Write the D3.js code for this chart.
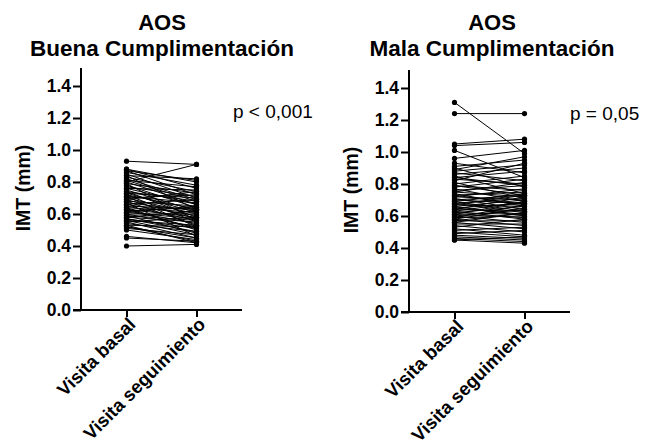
<!DOCTYPE html>
<html>
<head>
<meta charset="utf-8">
<script src="https://cdn.jsdelivr.net/npm/d3@7"></script>
<style>
  body { margin: 0; background: #fff; }
  text { font-family: "Liberation Sans", Arial, sans-serif; }
</style>
</head>
<body>
<script>
// categories and ticks
var visits = ["Visita basal", "Visita seguimiento"];
var yTicks = [0, 0.2, 0.4, 0.6, 0.8, 1.0, 1.2, 1.4];

// AOS buena cumplimentacion (basal / seguimiento, paired)
var buenaBasal = [0.93,0.88,0.88,0.87,0.87,0.86,0.85,0.84,0.83,0.82,0.81,0.80,0.79,0.80,0.78,0.77,0.76,0.75,0.74,0.74,
  0.73,0.72,0.72,0.71,0.70,0.70,0.69,0.68,0.68,0.67,0.66,0.66,0.65,0.64,0.64,0.63,0.62,0.62,0.61,0.60,
  0.60,0.59,0.58,0.58,0.57,0.56,0.56,0.55,0.54,0.53,0.52,0.52,0.51,0.50,0.46,0.45,0.40,0.84,0.81,0.79,
  0.76,0.73,0.71,0.69,0.67,0.65,0.63,0.61,0.59,0.57,0.55,0.53];
var buenaSeg = [0.91,0.80,0.76,0.81,0.72,0.78,0.70,0.82,0.74,0.69,0.77,0.66,0.73,0.91,0.64,0.71,0.75,0.62,0.68,0.58,
  0.70,0.63,0.55,0.67,0.60,0.72,0.57,0.65,0.53,0.62,0.59,0.69,0.56,0.61,0.50,0.58,0.64,0.54,0.57,0.52,
  0.60,0.48,0.55,0.62,0.51,0.53,0.47,0.58,0.49,0.52,0.45,0.43,0.47,0.44,0.42,0.43,0.41,0.63,0.68,0.56,
  0.66,0.61,0.52,0.74,0.46,0.63,0.51,0.65,0.56,0.49,0.45,0.42];

// AOS mala cumplimentacion
var malaBasal = [1.31,1.24,1.05,1.04,1.01,0.96,0.91,0.90,0.89,0.88,0.87,0.86,0.85,0.84,0.83,0.82,0.81,0.80,0.79,0.78,
  0.77,0.76,0.75,0.75,0.74,0.73,0.72,0.72,0.71,0.70,0.70,0.69,0.68,0.68,0.67,0.66,0.66,0.65,0.64,0.64,
  0.63,0.62,0.62,0.61,0.60,0.60,0.59,0.58,0.58,0.57,0.56,0.56,0.55,0.54,0.53,0.52,0.51,0.50,0.49,0.48,
  0.47,0.46,0.45,0.45,0.73,0.69,0.67,0.65,0.63,0.61,0.59,0.57,0.79,0.84,0.93];
var malaSeg = [0.99,1.24,1.08,1.06,0.84,1.01,0.95,0.78,0.97,0.92,0.82,0.90,0.74,0.88,0.80,0.93,0.71,0.85,0.76,0.83,
  0.69,0.79,0.72,0.81,0.66,0.75,0.70,0.77,0.64,0.73,0.68,0.74,0.62,0.71,0.66,0.70,0.60,0.68,0.63,0.72,
  0.58,0.66,0.61,0.69,0.56,0.64,0.60,0.54,0.65,0.57,0.52,0.62,0.55,0.50,0.58,0.48,0.53,0.47,0.51,0.46,
  0.45,0.44,0.43,0.47,0.67,0.63,0.73,0.61,0.69,0.59,0.67,0.62,0.73,0.79,0.87];

var panels = [
  {title: "Buena Cumplimentación", basal: buenaBasal, seg: buenaSeg, p: "p < 0,001",
   x0: 81, x1: 242, yTop: 86, yBottom: 310, cx: 162, px: 233, py: 118},
  {title: "Mala Cumplimentación", basal: malaBasal, seg: malaSeg, p: "p = 0,05",
   x0: 409, x1: 570, yTop: 88, yBottom: 312, cx: 492, px: 570, py: 120}
];

var svg = d3.select("body").append("svg").attr("width", 655).attr("height", 445);

panels.forEach(function(pn) {
  var g = svg.append("g");
  var x = d3.scalePoint().domain(visits).range([pn.x0, pn.x1]).padding(0.65);
  var y = d3.scaleLinear().domain([0, 1.4]).range([pn.yBottom, pn.yTop]);

  // titles
  g.append("text").attr("x", pn.cx).attr("y", 30).attr("text-anchor", "middle")
    .style("font-weight", "bold").style("font-size", "22px").text("AOS");
  g.append("text").attr("x", pn.cx).attr("y", 56).attr("text-anchor", "middle")
    .style("font-weight", "bold").style("font-size", "22.5px").text(pn.title);

  // paired lines
  var pairs = pn.basal.map(function(b, i) { return [b, pn.seg[i]]; });
  g.selectAll(".pair").data(pairs).enter().append("line")
    .attr("x1", x(visits[0])).attr("x2", x(visits[1]))
    .attr("y1", function(d) { return y(d[0]); })
    .attr("y2", function(d) { return y(d[1]); })
    .attr("stroke", "#000").attr("stroke-width", 1);

  visits.forEach(function(v, k) {
    g.selectAll(".dot" + k).data(pairs).enter().append("circle")
      .attr("cx", x(v)).attr("cy", function(d) { return y(d[k]); })
      .attr("r", 2.6).attr("fill", "#000");
  });

  // y axis
  var ya = g.append("g").attr("transform", "translate(" + pn.x0 + ",0)")
    .call(d3.axisLeft(y).tickValues(yTicks).tickFormat(d3.format(".1f")).tickSize(8).tickPadding(2));
  ya.select(".domain").attr("d", "M0," + (pn.yTop - 18) + "V" + pn.yBottom);

  // x axis
  var xa = g.append("g").attr("transform", "translate(0," + pn.yBottom + ")")
    .call(d3.axisBottom(x).tickSize(7).tickPadding(4));
  xa.select(".domain").attr("d", "M" + (pn.x0 - 8) + ",0H" + pn.x1);

  [ya, xa].forEach(function(a) {
    a.selectAll("path, line").attr("stroke", "#000").attr("stroke-width", 2);
    a.selectAll("text").style("font-family", "Liberation Sans, Arial, sans-serif")
      .style("font-weight", "bold").style("font-size", "17.5px").attr("fill", "#000");
  });
  xa.selectAll("text").attr("text-anchor", "end")
    .attr("transform", "translate(5,11) rotate(-45)").attr("dy", "0.35em").attr("y", 0).attr("x", 0)
    .style("font-size", "18.5px");

  // y label
  g.append("text").attr("transform", "translate(" + (pn.x0 - 51) + "," + ((pn.yTop + pn.yBottom) / 2 - 10) + ") rotate(-90)")
    .attr("text-anchor", "middle").style("font-weight", "bold").style("font-size", "19.5px").text("IMT (mm)");

  // p value
  g.append("text").attr("x", pn.px).attr("y", pn.py).style("font-size", "19px").text(pn.p);
});
</script>
</body>
</html>
